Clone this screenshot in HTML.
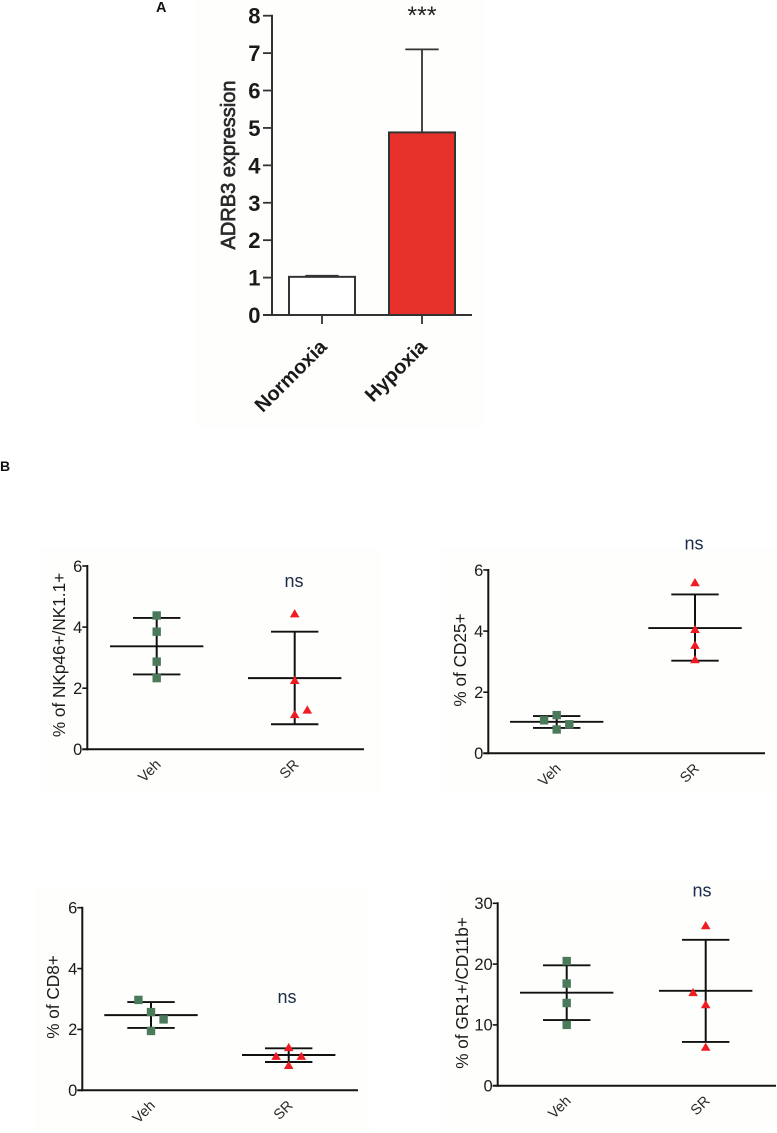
<!DOCTYPE html>
<html lang="en">
<head>
<meta charset="utf-8">
<title>ADRB3 expression and immune cell percentages</title>
<style>
  html, body { margin: 0; padding: 0; background: #ffffff; }
  #figure { display: block; width: 777px; height: 1133px; font-family: "Liberation Sans", sans-serif; filter: blur(0.35px); }
</style>
</head>
<body>
<svg id="figure" xmlns="http://www.w3.org/2000/svg" width="777" height="1133" viewBox="0 0 777 1133">
  <rect x="0" y="0" width="777" height="1133" fill="#ffffff"/>
  <text x="156" y="12" font-size="14.5" font-weight="bold" fill="#111">A</text>
  <text x="0" y="471" font-size="14" font-weight="bold" fill="#111">B</text>
</svg>
<script>
// Panel A values
const barCategories = ['Normoxia', 'Hypoxia'];
const barMeans = [1.02, 4.88];
const barUpper = [1.05, 7.1];
const barTicks = [0, 1, 2, 3, 4, 5, 6, 7, 8];

// Panel B shared categories
const dotCategories = ['Veh', 'SR'];

// NKp46+/NK1.1+
const nkTicks = [0, 2, 4, 6];
const nkVehValues = [4.38, 3.85, 2.87, 2.33];
const nkVehSlots = [0, 0, 0, 0];
const nkVehStats = [3.37, 4.3, 2.45];
const nkSrValues = [4.45, 2.27, 1.15, 1.3];
const nkSrSlots = [0, 0, 0, 1];
const nkSrStats = [2.33, 3.85, 0.82];

// CD25+
const cd25Ticks = [0, 2, 4, 6];
const cd25VehValues = [1.25, 1.08, 0.95, 0.78];
const cd25VehSlots = [0, -1, 1, 0];
const cd25VehStats = [1.03, 1.22, 0.83];
const cd25SrValues = [5.6, 4.07, 3.55, 3.08];
const cd25SrSlots = [0, 0, 0, 0];
const cd25SrStats = [4.1, 5.2, 3.03];

// CD8+
const cd8Ticks = [0, 2, 4, 6];
const cd8VehValues = [2.97, 2.57, 2.33, 1.95];
const cd8VehSlots = [-1, 0, 1, 0];
const cd8VehStats = [2.47, 2.9, 2.05];
const cd8SrValues = [1.42, 1.13, 1.13, 0.83];
const cd8SrSlots = [0, -1, 1, 0];
const cd8SrStats = [1.16, 1.38, 0.93];

// GR1+/CD11b+
const grTicks = [0, 10, 20, 30];
const grVehValues = [20.5, 16.8, 13.6, 10.0];
const grVehSlots = [0, 0, 0, 0];
const grVehStats = [15.3, 19.8, 10.8];
const grSrValues = [26.4, 15.4, 13.4, 6.4];
const grSrSlots = [0, -1, 0, 0];
const grSrStats = [15.6, 24.0, 7.2];

const SVG_NS = 'http://www.w3.org/2000/svg';
const root = document.getElementById('figure');

function shape(parent, tag, attrs) {
  const node = document.createElementNS(SVG_NS, tag);
  for (const key in attrs) node.setAttribute(key, attrs[key]);
  parent.appendChild(node);
  return node;
}
function line(parent, x1, y1, x2, y2, stroke, width) {
  return shape(parent, 'line', { x1: x1, y1: y1, x2: x2, y2: y2, stroke: stroke, 'stroke-width': width });
}
function label(parent, content, x, y, size, color, anchor, weight, rotation) {
  const node = shape(parent, 'text', {
    x: x, y: y, 'font-size': size, fill: color, 'text-anchor': anchor, 'font-weight': weight
  });
  if (rotation) node.setAttribute('transform', 'rotate(' + rotation + ' ' + x + ' ' + y + ')');
  node.textContent = content;
  return node;
}

/* ---------- Panel A: bar chart ---------- */
function drawBarChart() {
  const g = shape(root, 'g', {});
  
  

  const plotBg = shape(g, 'rect', { x: 195, y: 0, width: 290, height: 428, fill: '#fefefd' });
  
  

  const axisX = 272, baseY = 315, topY = 15.7, axisRight = 472;
  const yScale = function (v) { return baseY + (topY - baseY) * v / 8; };
  const xCenter = function (i) { return 322 + i * 100; };
  const ink = '#333333';

  barCategories.forEach(function (name, i) {
    const cx = xCenter(i);
    const yTop = yScale(barMeans[i]);
    const yErr = yScale(barUpper[i]);

    const stem = line(g, cx, yErr, cx, yTop, ink, 1.8);
    
    
    const cap = line(g, cx - 16.7, yErr, cx + 16.7, yErr, ink, 1.8);
    
    

    const bar = shape(g, 'rect', {
      x: cx - 33, y: yTop, width: 66, height: baseY - yTop,
      fill: i === 0 ? '#ffffff' : '#e6322a', stroke: ink, 'stroke-width': 2
    });
    
    

    const tick = line(g, cx, baseY, cx, baseY + 9, ink, 1.8);
    
    

    const text = label(g, name, cx + 6, baseY + 33, 20, '#1a1a1a', 'end', 'bold', -45);
    
    
  });

  const yAxis = line(g, axisX, topY - 1, axisX, baseY + 1, ink, 2);
  
  
  const xAxis = line(g, 263, baseY, axisRight, baseY, ink, 2);
  
  

  barTicks.forEach(function (tickValue) {
    const y = yScale(tickValue);
    if (tickValue !== 0) {
      const tick = line(g, 263, y, axisX, y, ink, 1.8);
      
      
    }
    const text = label(g, String(tickValue), 260.5, y + 8, 22, '#1a1a1a', 'end', 'bold', 0);
    
    
  });

  const title = label(g, 'ADRB3 expression', 235, 165, 20, '#2a2a2a', 'middle', 'normal', -90);
  title.setAttribute('stroke', '#2a2a2a');
  title.setAttribute('stroke-width', '0.7');
  
  

  const stars = label(g, '***', 422, 24, 25, '#222', 'middle', 'normal', 0);
  
  
}

/* ---------- Panel B: scatter panels ---------- */
function drawMarker(g, kind, x, y) {
  if (kind === 'square') {
    return shape(g, 'rect', { x: x - 4.2, y: y - 4.2, width: 8.4, height: 8.4, fill: '#4a7a5a' });
  }
  return shape(g, 'polygon', {
    points: (x - 4.8) + ',' + (y + 4) + ' ' + x + ',' + (y - 4.2) + ' ' + (x + 4.8) + ',' + (y + 4),
    fill: '#ee1c22'
  });
}

function drawGroup(g, p, groupName, kind, cx, values, slots, stats, yScale) {
  const meanLine = line(g, cx - 46.7, yScale(stats[0]), cx + 46.7, yScale(stats[0]), '#111', 1.9);
  
  
  const upper = line(g, cx - 23.7, yScale(stats[1]), cx + 23.7, yScale(stats[1]), '#111', 1.9);
  
  
  const lower = line(g, cx - 23.7, yScale(stats[2]), cx + 23.7, yScale(stats[2]), '#111', 1.9);
  
  
  const stem = line(g, cx, yScale(stats[1]), cx, yScale(stats[2]), '#111', 2);
  
  

  values.forEach(function (value, i) {
    const marker = drawMarker(g, kind, cx + slots[i] * 12.6, yScale(value));
    
    
  });
}

function drawPanel(p) {
  const g = shape(root, 'g', {});
  
  

  const bg = shape(g, 'rect', { x: p.bg[0], y: p.bg[1], width: p.bg[2], height: p.bg[3], fill: '#fefefd' });
  
  

  const maxTick = p.ticks[p.ticks.length - 1];
  const yScale = function (v) { return p.y0 + (p.yTop - p.y0) * v / maxTick; };
  const ink = '#141414';

  const yAxis = line(g, p.axisX, p.yTop - 1, p.axisX, p.y0 + 1, ink, 2);
  
  
  const xAxis = line(g, p.axisX - 5, p.y0, p.axisRight, p.y0, ink, 2);
  
  

  p.ticks.forEach(function (tickValue) {
    const y = yScale(tickValue);
    const tick = line(g, p.axisX - 5, y, p.axisX, y, ink, 1.6);
    
    
    const text = label(g, String(tickValue), p.axisX - 5, y + 5.8, 16.5, '#1c1c1c', 'end', 'normal', 0);
    
    
  });

  const title = label(g, p.title, p.titleX, p.titleY, 17.2, '#1c1c1c', 'middle', 'normal', -90);
  
  

  const centers = [p.vehX, p.srX];
  dotCategories.forEach(function (name, i) {
    const text = label(g, name, centers[i] + 5, p.y0 + 16, 14.5, '#2a2a2a', 'end', 'normal', -45);
    
    
  });

  drawGroup(g, p, 'veh', 'square', p.vehX, p.vehValues, p.vehSlots, p.vehStats, yScale);
  drawGroup(g, p, 'sr', 'triangle', p.srX, p.srValues, p.srSlots, p.srStats, yScale);

  const ns = label(g, 'ns', p.nsX, p.nsY, 18, '#1b2b48', 'middle', 'normal', 0);
  
  
}

drawBarChart();

drawPanel({
  id: 'nkp46', title: '% of NKp46+/NK1.1+', ticks: nkTicks,
  bg: [40, 548, 340, 245], axisX: 87.3, axisRight: 364, y0: 749.3, yTop: 566,
  vehX: 156.7, srX: 294.7, titleX: 65, titleY: 655, nsX: 294, nsY: 587,
  vehValues: nkVehValues, vehSlots: nkVehSlots, vehStats: nkVehStats,
  srValues: nkSrValues, srSlots: nkSrSlots, srStats: nkSrStats
});
drawPanel({
  id: 'cd25', title: '% of CD25+', ticks: cd25Ticks,
  bg: [440, 548, 337, 245], axisX: 488.3, axisRight: 765, y0: 753.3, yTop: 570,
  vehX: 556.7, srX: 695, titleX: 466, titleY: 660, nsX: 694, nsY: 549.5,
  vehValues: cd25VehValues, vehSlots: cd25VehSlots, vehStats: cd25VehStats,
  srValues: cd25SrValues, srSlots: cd25SrSlots, srStats: cd25SrStats
});
drawPanel({
  id: 'cd8', title: '% of CD8+', ticks: cd8Ticks,
  bg: [35, 885, 335, 245], axisX: 82.3, axisRight: 358, y0: 1090.3, yTop: 907.7,
  vehX: 151, srX: 288.7, titleX: 59, titleY: 997, nsX: 287, nsY: 1003,
  vehValues: cd8VehValues, vehSlots: cd8VehSlots, vehStats: cd8VehStats,
  srValues: cd8SrValues, srSlots: cd8SrSlots, srStats: cd8SrStats
});
drawPanel({
  id: 'gr1', title: '% of GR1+/CD11b+', ticks: grTicks,
  bg: [442, 880, 335, 245], axisX: 497.7, axisRight: 776, y0: 1085.7, yTop: 903.3,
  vehX: 566.7, srX: 705.7, titleX: 468, titleY: 993, nsX: 702, nsY: 896.5,
  vehValues: grVehValues, vehSlots: grVehSlots, vehStats: grVehStats,
  srValues: grSrValues, srSlots: grSrSlots, srStats: grSrStats
});
</script>
</body>
</html>
